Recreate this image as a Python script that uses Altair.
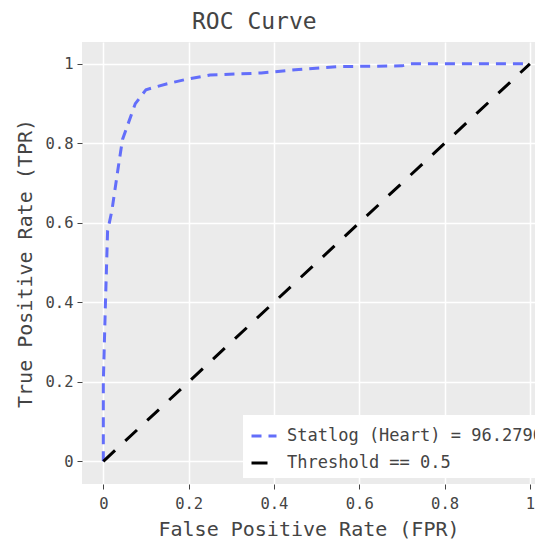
import altair as alt
import pandas as pd

# ROC curve
fpr = [0.0, 0.0, 0.005, 0.01, 0.02, 0.035, 0.045, 0.075, 0.10, 0.15, 0.19, 0.25,
       0.37, 0.45, 0.55, 0.70, 0.72, 1.0]
tpr = [0.0, 0.20, 0.40, 0.58, 0.63, 0.74, 0.81, 0.90, 0.935, 0.95, 0.96, 0.972,
       0.977, 0.985, 0.993, 0.995, 1.0, 1.0]

thr_x = [0.0, 1.0]
thr_y = [0.0, 1.0]

series_names = ["Statlog (Heart) = 96.2790%", "Threshold == 0.5"]
tick_values = [0, 0.2, 0.4, 0.6, 0.8, 1]

rows = []
for i, (a, b) in enumerate(zip(fpr, tpr)):
    rows.append({"series": series_names[0], "fpr": a, "tpr": b, "idx": i})
for i, (a, b) in enumerate(zip(thr_x, thr_y)):
    rows.append({"series": series_names[1], "fpr": a, "tpr": b, "idx": i})
df = pd.DataFrame(rows)

FONT = "DejaVu Sans Mono"
TXT = "#444444"

legend = alt.Legend(
    title=None, orient="none", legendX=161, legendY=373,
    fillColor="white", padding=7, rowPadding=5,
    labelFont=FONT, labelFontSize=17, labelColor=TXT, labelLimit=1000,
    labelOffset=9, symbolType="stroke", symbolSize=625, symbolStrokeWidth=3,
)

chart = alt.Chart(df).mark_line(strokeWidth=3).encode(
    x=alt.X("fpr:Q",
            scale=alt.Scale(domain=[-0.05, 1.012], nice=False, zero=False),
            axis=alt.Axis(values=tick_values, format="~g",
                          title="False Positive Rate (FPR)",
                          labelPadding=7, titlePadding=8)),
    y=alt.Y("tpr:Q",
            scale=alt.Scale(domain=[-0.057, 1.055], nice=False, zero=False),
            axis=alt.Axis(values=tick_values, format="~g",
                          title="True Positive Rate (TPR)",
                          labelPadding=4, titlePadding=10)),
    color=alt.Color("series:N",
                    scale=alt.Scale(domain=series_names, range=["#636efa", "#000000"]),
                    legend=legend),
    strokeDash=alt.StrokeDash("series:N",
                              scale=alt.Scale(domain=series_names, range=[[10, 7], [16, 14]]),
                              legend=legend),
    order="idx:Q",
).properties(
    width=453, height=442,
    autosize=alt.AutoSizeParams(type="none"),
    padding={"left": 74, "top": 34, "right": 0, "bottom": 56},
    background="white",
    title=alt.TitleParams("ROC Curve", anchor="start", frame="group", dx=110,
                          font=FONT, fontSize=23, color=TXT, fontWeight="normal",
                          offset=8),
).configure_view(
    fill="#ebebeb", stroke=None,
).configure_axis(
    labelFont=FONT, labelFontSize=15.5, labelColor=TXT,
    titleFont=FONT, titleFontSize=20, titleColor=TXT, titleFontWeight="normal",
    tickColor=TXT, tickSize=5, tickWidth=1,
    domain=False, grid=True, gridColor="white", gridWidth=1.5,
)

chart.save("out.html", embed_options={"renderer": "svg", "actions": False})
